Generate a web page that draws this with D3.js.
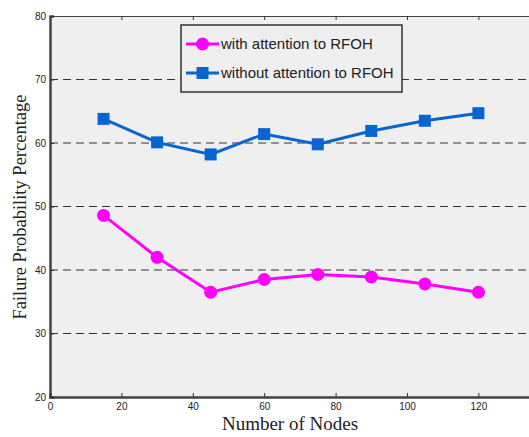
<!DOCTYPE html>
<html>
<head>
<meta charset="utf-8">
<script src="https://cdn.jsdelivr.net/npm/d3@7"></script>
<style>
  body { margin: 0; background: #fff; }
  svg { display: block; }
</style>
</head>
<body>
<svg id="chart"></svg>
<script>
// data
const nodes = [15, 30, 45, 60, 75, 90, 105, 120];
const withRFOH = [48.6, 42.0, 36.5, 38.5, 39.3, 38.9, 37.8, 36.5];
const withoutRFOH = [63.8, 60.1, 58.2, 61.4, 59.8, 61.9, 63.5, 64.7];
const xTicks = [0, 20, 40, 60, 80, 100, 120];
const yTicks = [20, 30, 40, 50, 60, 70, 80];
const gridTicks = [30, 40, 50, 60, 70];
const seriesNames = ['with attention to RFOH', 'without attention to RFOH'];

const width = 529, height = 437;
const plotLeft = 50, plotTop = 16, plotBottom = 397;

const svg = d3.select('#chart')
    .attr('width', width)
    .attr('height', height);

// the axes box runs past the right edge of the picture
const x = d3.scaleLinear().domain([0, 140]).range([plotLeft, plotLeft + 14 * 35.7]);
const y = d3.scaleLinear().domain([20, 80]).range([plotBottom, plotTop]);

// plot background
svg.append('rect')
    .attr('x', plotLeft).attr('y', plotTop)
    .attr('width', x(140) - plotLeft).attr('height', plotBottom - plotTop)
    .attr('fill', '#efefef');

// dashed grid
svg.append('g').selectAll('line')
    .data(gridTicks)
    .enter().append('line')
    .attr('x1', plotLeft).attr('x2', x(140))
    .attr('y1', d => y(d)).attr('y2', d => y(d))
    .attr('stroke', '#333')
    .attr('stroke-width', 1.2)
    .attr('stroke-dasharray', '8,5');

// axes
const xAxis = svg.append('g')
    .attr('transform', `translate(0,${plotBottom})`)
    .call(d3.axisBottom(x).tickValues(xTicks).tickSize(-4).tickPadding(6));
const xTop = svg.append('g')
    .attr('transform', `translate(0,${plotTop})`)
    .call(d3.axisTop(x).tickValues(xTicks).tickSize(-4).tickFormat(''));
const yAxis = svg.append('g')
    .attr('transform', `translate(${plotLeft},0)`)
    .call(d3.axisLeft(y).tickValues(yTicks).tickSize(-4).tickPadding(4));

[xAxis, xTop, yAxis].forEach(g => {
    g.select('.domain').attr('stroke', '#444');
    g.selectAll('.tick line').attr('stroke', '#333');
    g.selectAll('.tick text')
        .attr('fill', '#222')
        .style('font-family', 'Arial, "Liberation Sans", sans-serif')
        .style('font-size', '10px');
});
xAxis.select('.domain').attr('stroke-width', 2.5);
yAxis.select('.domain').attr('stroke-width', 2.5);
xTop.select('.domain').attr('stroke-width', 1.2);

// lines + markers
const line = d3.line()
    .x((d, i) => x(nodes[i]))
    .y(d => y(d));

svg.append('path')
    .datum(withoutRFOH)
    .attr('d', line)
    .attr('fill', 'none')
    .attr('stroke', '#0a64d0')
    .attr('stroke-width', 3);

svg.append('g').selectAll('rect')
    .data(withoutRFOH)
    .enter().append('rect')
    .attr('x', (d, i) => x(nodes[i]) - 6)
    .attr('y', d => y(d) - 6)
    .attr('width', 12).attr('height', 12)
    .attr('fill', '#0a64d0');

svg.append('path')
    .datum(withRFOH)
    .attr('d', line)
    .attr('fill', 'none')
    .attr('stroke', '#ff00ff')
    .attr('stroke-width', 3);

svg.append('g').selectAll('circle')
    .data(withRFOH)
    .enter().append('circle')
    .attr('cx', (d, i) => x(nodes[i]))
    .attr('cy', d => y(d))
    .attr('r', 6.5)
    .attr('fill', '#ff00ff');

// legend
const legend = svg.append('g');
legend.append('rect')
    .attr('x', 181).attr('y', 25)
    .attr('width', 221).attr('height', 67)
    .attr('fill', '#efefef')
    .attr('stroke', '#333')
    .attr('stroke-width', 1.5);

const legendColors = ['#ff00ff', '#0a64d0'];
const legendItem = legend.selectAll('.legend-item')
    .data(seriesNames)
    .enter().append('g')
    .attr('class', 'legend-item')
    .attr('transform', (d, i) => `translate(186,${44 + i * 29})`);

legendItem.append('line')
    .attr('x1', 0).attr('x2', 33)
    .attr('stroke', (d, i) => legendColors[i])
    .attr('stroke-width', 3);

legendItem.filter((d, i) => i === 0).append('circle')
    .attr('cx', 16.5).attr('r', 6.5)
    .attr('fill', legendColors[0]);

legendItem.filter((d, i) => i === 1).append('rect')
    .attr('x', 10.5).attr('y', -6)
    .attr('width', 12).attr('height', 12)
    .attr('fill', legendColors[1]);

legendItem.append('text')
    .attr('x', 35)
    .attr('dy', '0.35em')
    .style('font-family', 'Arial, "Liberation Sans", sans-serif')
    .style('font-size', '15px')
    .attr('fill', '#222')
    .text(d => d);

// axis titles
svg.append('text')
    .attr('x', 290).attr('y', 430)
    .attr('text-anchor', 'middle')
    .style('font-family', '"Times New Roman", "Liberation Serif", serif')
    .style('font-size', '19px')
    .attr('fill', '#222')
    .text('Number of Nodes');

svg.append('text')
    .attr('transform', 'translate(26,207) rotate(-90)')
    .attr('text-anchor', 'middle')
    .style('font-family', '"Times New Roman", "Liberation Serif", serif')
    .style('font-size', '18.5px')
    .attr('fill', '#222')
    .text('Failure Probability Percentage');
</script>
</body>
</html>
